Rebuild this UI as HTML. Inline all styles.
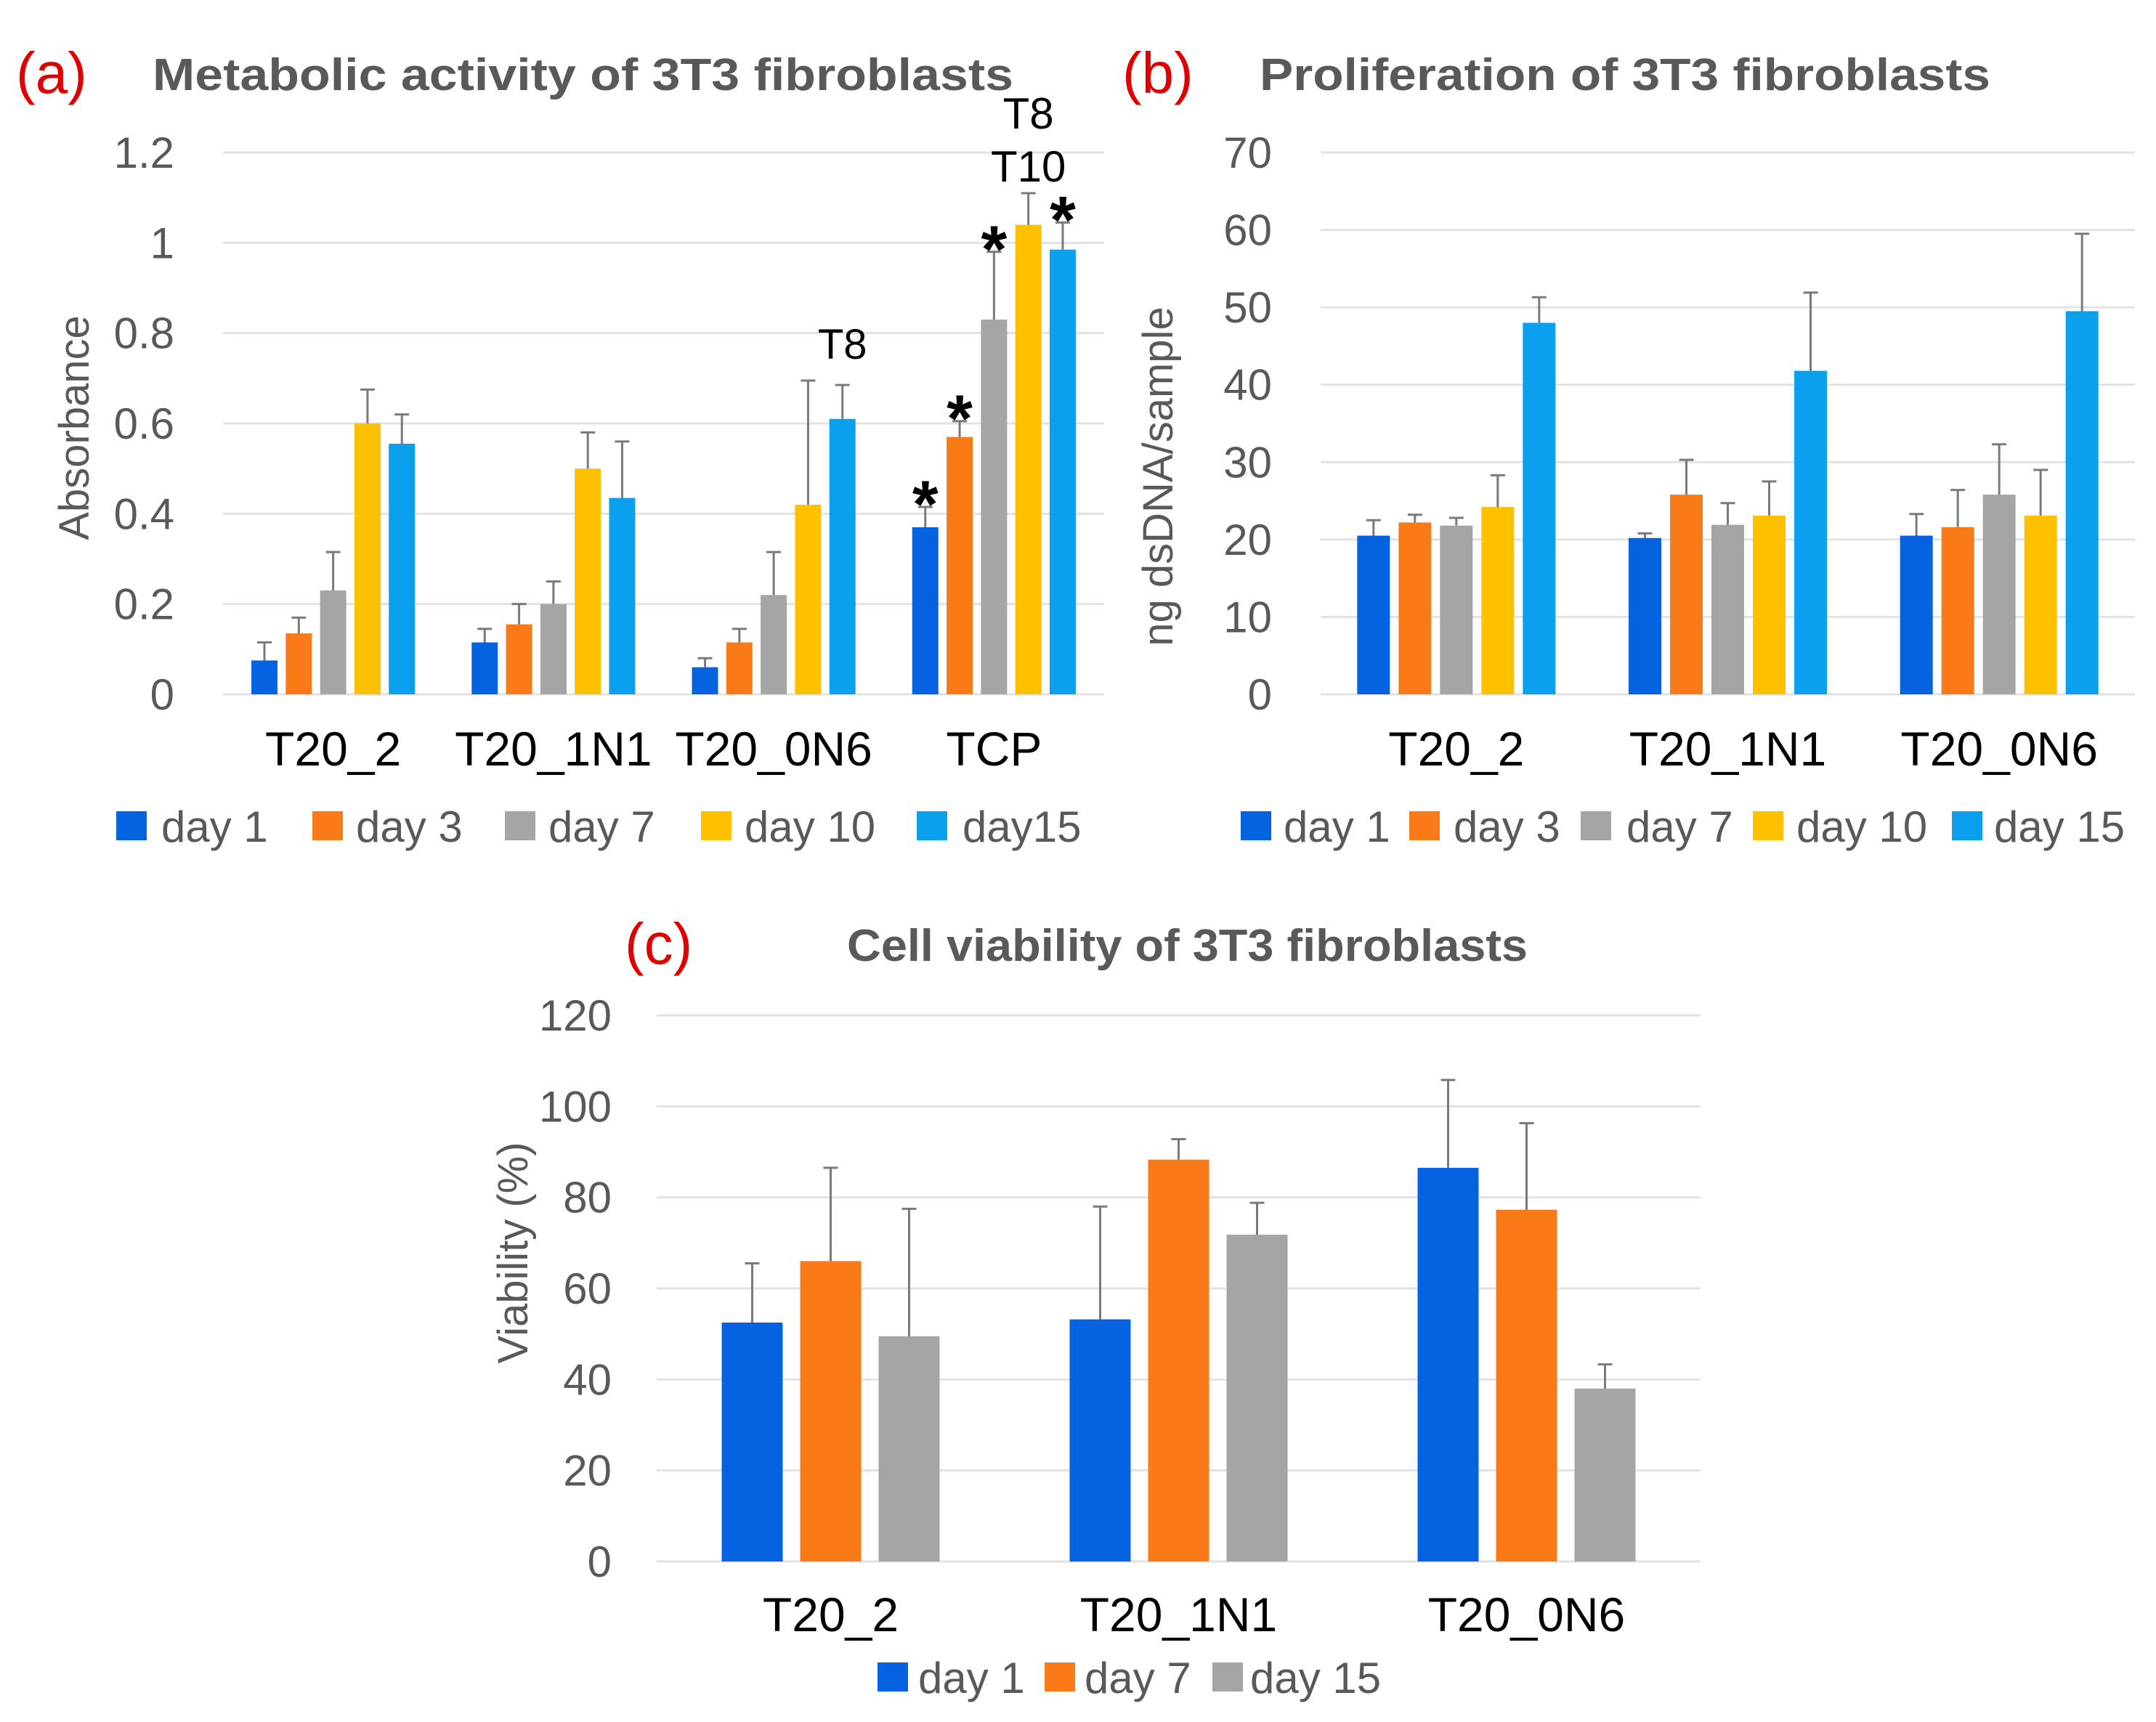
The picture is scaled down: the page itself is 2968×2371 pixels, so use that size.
<!DOCTYPE html>
<html><head><meta charset="utf-8"><style>
html,body{margin:0;padding:0;background:#fff;}
svg{display:block;font-family:"Liberation Sans",Arial,sans-serif;}
</style></head><body>
<svg id="fig" width="2968" height="2371" viewBox="0 0 2968 2371" xmlns="http://www.w3.org/2000/svg"></svg>
<script>
const catsA = ["T20_2","T20_1N1","T20_0N6","TCP"];
const seriesA = ["day 1","day 3","day 7","day 10","day15"];
const valsA = [[0.075,0.115,0.06,0.37],[0.135,0.155,0.115,0.57],[0.23,0.20,0.22,0.83],[0.60,0.50,0.42,1.04],[0.555,0.435,0.61,0.985]];
const errA = [[0.115,0.145,0.08,0.415],[0.17,0.20,0.145,0.605],[0.315,0.25,0.315,0.98],[0.675,0.58,0.695,1.11],[0.62,0.56,0.685,1.045]];
const ticksA = ["0","0.2","0.4","0.6","0.8","1","1.2"];

const catsB = ["T20_2","T20_1N1","T20_0N6"];
const seriesB = ["day 1","day 3","day 7","day 10","day 15"];
const valsB = [[20.5,20.2,20.5],[22.2,25.8,21.6],[21.8,21.9,25.8],[24.2,23.1,23.1],[48,41.8,49.5]];
const errB = [[22.5,20.8,23.3],[23.2,30.3,26.4],[22.8,24.7,32.3],[28.3,27.5,29],[51.3,51.9,59.5]];
const ticksB = ["0","10","20","30","40","50","60","70"];

const catsC = ["T20_2","T20_1N1","T20_0N6"];
const seriesC = ["day 1","day 7","day 15"];
const valsC = [[52.5,53.2,86.5],[66,88.3,77.3],[49.5,71.8,38]];
const errC = [[65.5,78,105.8],[86.5,92.8,96.3],[77.5,78.8,43.3]];
const ticksC = ["0","20","40","60","80","100","120"];

const colA = ["#0563e2","#fa7a18","#a5a5a5","#ffc000","#0aa0ee"];
const colC = ["#0563e2","#fa7a18","#a5a5a5"];
const NS="http://www.w3.org/2000/svg";
const svg=document.getElementById('fig');
function mk(tag,attrs,parent,txt){const e=document.createElementNS(NS,tag);for(const k in attrs)e.setAttribute(k,attrs[k]);if(txt!==undefined)e.textContent=txt;(parent||svg).appendChild(e);return e;}

function chart(o){
  const g=mk('g',{});
  
  
  const yv=v=>o.y0-(v-o.min)/(o.max-o.min)*(o.y0-o.y1);
  const gw=(o.x1-o.x0)/o.cats.length;
  const xc=i=>o.x0+gw*(i+0.5);
  o.ticks.forEach(t=>{
    const v=parseFloat(t);
    const l=mk('line',{x1:o.x0,x2:o.x1,y1:yv(v),y2:yv(v),stroke:'#e2e2e2','stroke-width':3},g);
    
    
    const tx=mk('text',{x:o.tickX,y:yv(v)+21,'text-anchor':'end','font-size':60,fill:'#595959'},g,t);
    
    
  });
  const n=o.vals.length;
  o.vals.forEach((ser,s)=>{
    ser.forEach((v,i)=>{
      const cx=xc(i)+(s-(n-1)/2)*o.pitch;
      const r=mk('rect',{x:cx-o.bw/2,y:yv(v),width:o.bw,height:yv(o.min)-yv(v),fill:o.colors[s]},g);
      
      
      const e=o.err[s][i];
      const el=mk('path',{d:`M${cx} ${yv(v)}V${yv(e)}M${cx-10} ${yv(e)}H${cx+10}`,stroke:'#7a7a7a','stroke-width':3,fill:'none'},g);
      
      
    });
  });
  o.cats.forEach((c,i)=>{
    const t=mk('text',{x:xc(i),y:o.catY,'text-anchor':'middle','font-size':66,fill:'#000'},g,c);
    
    
  });
  o.legend.forEach((p,s)=>{
    const r=mk('rect',{x:p[0],y:o.legY-21,width:42,height:40,fill:o.colors[s]},g);
    
    
    const t=mk('text',{x:p[1],y:o.legY+21,'font-size':60,fill:'#595959'},g,o.series[s]);
    
    
  });
  const yt=mk('text',{x:0,y:0,'text-anchor':'middle','font-size':58,fill:'#595959',transform:`translate(${o.ytX},${o.ytY}) rotate(-90)`},g,o.ytitle);
  
  
  const pl=mk('text',{x:o.plX,y:o.titleY,'font-size':80,fill:'#e00000'},g,o.panel);
  
  
  const tt=mk('text',{x:o.tX,y:o.titleY-4,'font-size':62,'font-weight':'bold',fill:'#595959',textLength:o.tW,lengthAdjust:'spacingAndGlyphs'},g,o.title);
  
  
  return {yv,xc};
}

const A=chart({name:'chart-a',cats:catsA,series:seriesA,vals:valsA,err:errA,ticks:ticksA,colors:colA,min:0,max:1.2,
  x0:307,x1:1520,y0:956,y1:210,bw:36,pitch:47.3,tickX:240,catY:1054,legY:1138,
  legend:[[160,222],[430,490],[695,755],[965,1025],[1262,1325]],
  ytitle:'Absorbance',ytX:122,ytY:589,panel:'(a)',plX:22,titleY:128,tX:210,tW:1185,
  title:'Metabolic activity of 3T3 fibroblasts'});
const B=chart({name:'chart-b',cats:catsB,series:seriesB,vals:valsB,err:errB,ticks:ticksB,colors:colA,min:0,max:70,
  x0:1818,x1:2939,y0:956,y1:210,bw:45,pitch:57,tickX:1751,catY:1054,legY:1138,
  legend:[[1708,1767],[1940,2001],[2176,2239],[2413,2473],[2687,2745]],
  ytitle:'ng dsDNA/sample',ytX:1614,ytY:656,panel:'(b)',plX:1545,titleY:128,tX:1734,tW:1006,
  title:'Proliferation of 3T3 fibroblasts'});
const C=chart({name:'chart-c',cats:catsC,series:seriesC,vals:valsC,err:errC,ticks:ticksC,colors:colC,min:0,max:120,
  x0:904,x1:2341,y0:2150,y1:1398,bw:84,pitch:108,tickX:842,catY:2246,legY:2310,
  legend:[[1208,1264],[1438,1493],[1669,1721]],
  ytitle:'Viability (%)',ytX:726,ytY:1725,panel:'(c)',plX:860,titleY:1327,tX:1166,tW:937,
  title:'Cell viability of 3T3 fibroblasts'});

// significance annotations (panel a)
const annA=[[3,0,'*',0.415],[3,1,'*',0.605],[3,2,'*',0.98],[3,4,'*',1.045],[2,4,'T8',0.695]];
annA.forEach(a=>{
  const cx=A.xc(a[0])+(a[1]-2)*47.3;
  const isStar=a[2]==='*';
  const t=mk('text',{x:cx,y:A.yv(a[3])-(isStar?-28:30),'text-anchor':'middle','font-size':isStar?92:58,'font-weight':isStar?'bold':'normal',fill:'#000'},svg,a[2]);
  
  
});
const t10=mk('text',{x:A.xc(3)+47.3,y:250,'text-anchor':'middle','font-size':60,fill:'#000'},svg,'T10');


const t8=mk('text',{x:A.xc(3)+47.3,y:177,'text-anchor':'middle','font-size':60,fill:'#000'},svg,'T8');


</script>
</body></html>
